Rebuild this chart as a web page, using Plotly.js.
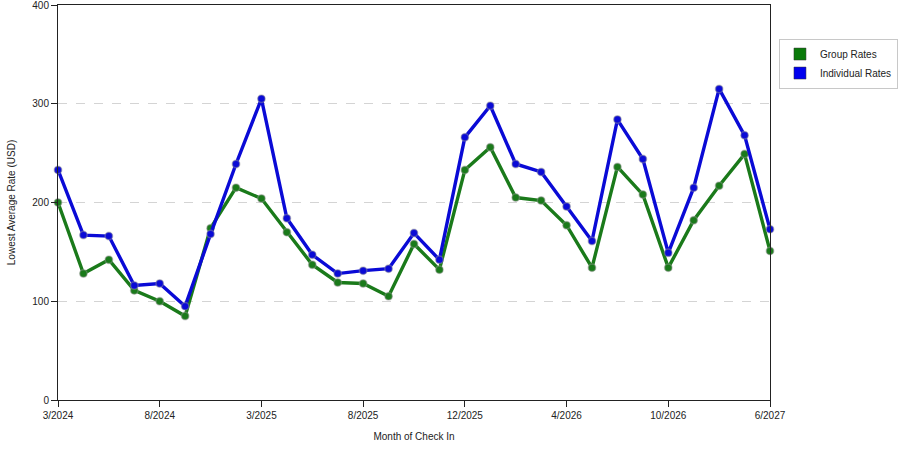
<!DOCTYPE html>
<html>
<head>
<meta charset="utf-8">
<script src="https://cdn.plot.ly/plotly-3.0.1.min.js"></script>
<style>
  body { margin: 0; background: #fff; }
  #rateChart { width: 900px; height: 450px; }
</style>
</head>
<body>
<div id="rateChart"></div>
<script>
// check-in months (every point is one sampled month)
var months = ['3/2024','4/2024','5/2024','6/2024','8/2024','9/2024','11/2024','1/2025',
  '3/2025','4/2025','5/2025','7/2025','8/2025','9/2025','10/2025','11/2025',
  '12/2025','1/2026','2/2026','3/2026','4/2026','6/2026','7/2026','9/2026',
  '10/2026','12/2026','2/2027','4/2027','6/2027'];

var groupRates = [200, 128, 142, 111, 100, 85, 174, 215, 204, 170, 137, 119, 118, 105, 158, 132,
  233, 256, 205, 202, 177, 134, 236, 208, 134, 182, 217, 249, 151];

var individualRates = [233, 167, 166, 116, 118, 95, 168, 239, 305, 184, 147, 128, 131, 133, 169, 142,
  266, 298, 239, 231, 196, 161, 284, 244, 149, 215, 315, 268, 173];

var tickMonths = ['3/2024','8/2024','3/2025','8/2025','12/2025','4/2026','10/2026','6/2027'];

var groupColor = '#1a7a1a';
var indivColor = '#0a0ad6';

var xIdx = months.map(function (m, i) { return i; });
var tickIdx = tickMonths.map(function (m) { return months.indexOf(m); });

function lineTrace(vals, color, name) {
  return {
    x: xIdx,
    y: vals,
    name: name,
    type: 'scatter',
    mode: 'lines+markers',
    showlegend: false,
    cliponaxis: false,
    line: { color: color, width: 3.4 },
    marker: { color: color, size: 7.5, line: { color: 'rgba(150,150,150,0.45)', width: 1.5 } }
  };
}

function legendTrace(color, name) {
  return {
    x: [null],
    y: [null],
    name: name,
    type: 'scatter',
    mode: 'markers',
    marker: { symbol: 'square', color: color, size: 12, line: { color: '#333', width: 0.5 } }
  };
}

var data = [
  lineTrace(groupRates, groupColor, 'Group Rates'),
  lineTrace(individualRates, indivColor, 'Individual Rates'),
  legendTrace('#0a7a0a', 'Group Rates'),
  legendTrace('#0000ee', 'Individual Rates')
];

var layout = {
  width: 900,
  height: 450,
  margin: { l: 58, r: 130, t: 5, b: 50, autoexpand: false },
  paper_bgcolor: '#fff',
  plot_bgcolor: '#fff',
  font: { family: 'Liberation Sans, Arial, sans-serif', size: 10, color: '#222' },
  xaxis: {
    range: [0, months.length - 1],
    tickvals: tickIdx,
    ticktext: tickMonths,
    ticks: 'outside',
    ticklen: 6,
    tickcolor: '#222',
    showgrid: false,
    zeroline: false,
    showline: true,
    linecolor: '#222',
    linewidth: 1,
    mirror: true,
    ticklabeloverflow: 'allow',
    title: { text: 'Month of Check In', font: { size: 10 }, standoff: 12 }
  },
  yaxis: {
    range: [0, 400],
    tickvals: [0, 100, 200, 300, 400],
    ticks: 'outside',
    ticklen: 6,
    tickcolor: '#222',
    showgrid: true,
    gridcolor: '#d4d4d4',
    griddash: 'dash',
    zeroline: false,
    showline: true,
    linecolor: '#222',
    linewidth: 1,
    mirror: true,
    ticklabeloverflow: 'allow',
    title: { text: 'Lowest Average Rate (USD)', font: { size: 10 }, standoff: 14 }
  },
  legend: {
    x: 1.0126,
    y: 0.915,
    xanchor: 'left',
    yanchor: 'top',
    bgcolor: '#fff',
    bordercolor: '#c8c8c8',
    borderwidth: 1,
    font: { size: 10 },
    itemwidth: 30,
    tracegroupgap: 2
  }
};

Plotly.newPlot('rateChart', data, layout, { staticPlot: true });
</script>
</body>
</html>
